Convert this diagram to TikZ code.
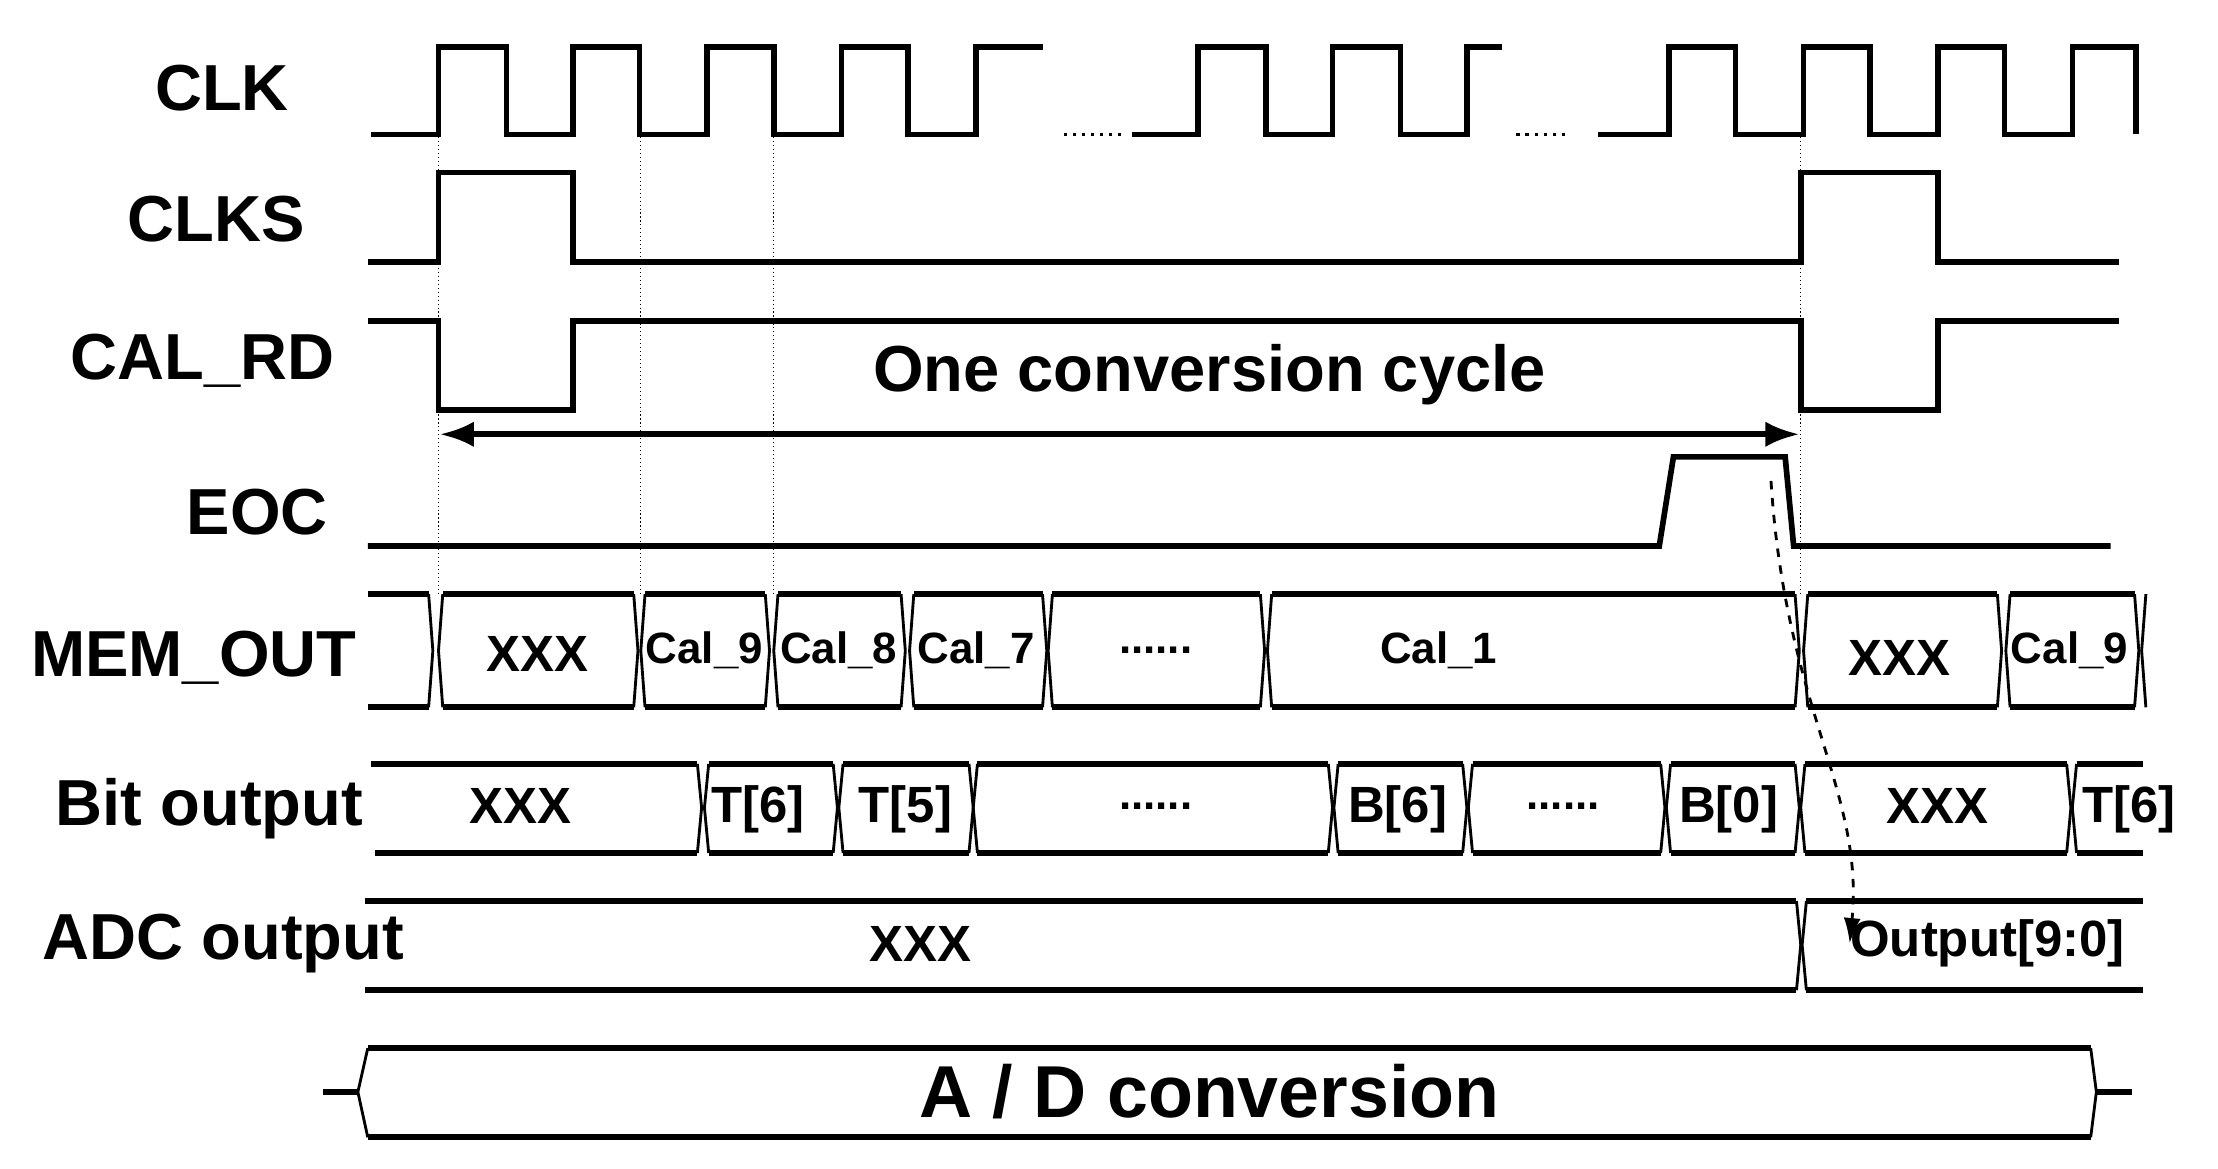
\documentclass[tikz,border=0pt]{standalone}
\usepackage{fontspec}
\setmainfont{Liberation Sans}
\usetikzlibrary{arrows.meta}
\begin{document}
\begin{tikzpicture}[x=0.5pt,y=-0.5pt,
  wave/.style={line width=2pt,line join=miter},
  bus/.style={line width=1pt},
  busedge/.style={line width=2.2pt},
  lbl/.style={font=\bfseries\fontsize{23}{23}\selectfont,inner sep=0},
  cell/.style={font=\bfseries\fontsize{18}{18}\selectfont,inner sep=0},
  cals/.style={font=\bfseries\fontsize{15.5}{15.5}\selectfont,inner sep=0},
  guide/.style={densely dotted,line width=0.4pt}]
\useasboundingbox (0,0) rectangle (1568,826);
% labels
\node[lbl] (lclk) at (157,62) {CLK};
\node[lbl] (lclks) at (153,155) {CLKS};
\node[lbl] (lcal) at (143,255) {CAL\_RD};
\node[lbl] (leoc) at (182,362) {EOC};
\node[lbl] (lmem) at (137,465) {MEM\_OUT};
\node[lbl] (lbit) at (148,572) {Bit output};
\node[lbl] (ladc) at (158,667) {ADC output};
% guides
\foreach \x in {310,453,547,1273} \draw[guide] (\x,97) -- (\x,420);
% CLK
\def\H{33}\def\L{95}
\draw[wave] (262,\L) -- (310,\L) -- (310,\H) -- (358,\H) -- (358,\L) -- (405,\L) -- (405,\H) -- (452,\H) -- (452,\L) -- (500,\L) -- (500,\H) -- (547,\H) -- (547,\L) -- (595,\L) -- (595,\H) -- (642,\H) -- (642,\L) -- (690,\L) -- (690,\H) -- (737,\H);
\draw[line width=1.2pt,dotted] (752,\L) -- (795,\L);
\draw[wave] (800,\L) -- (847,\L) -- (847,\H) -- (895,\H) -- (895,\L) -- (942,\L) -- (942,\H) -- (990,\H) -- (990,\L) -- (1037,\L) -- (1037,\H) -- (1062,\H);
\draw[line width=1.2pt,dotted] (1072,\L) -- (1110,\L);
\draw[wave] (1130,\L) -- (1180,\L) -- (1180,\H) -- (1227,\H) -- (1227,\L) -- (1275,\L) -- (1275,\H) -- (1322,\H) -- (1322,\L) -- (1370,\L) -- (1370,\H) -- (1417,\H) -- (1417,\L) -- (1465,\L) -- (1465,\H) -- (1510,\H) -- (1510,\L);
% CLKS
\draw[wave] (260,185) -- (310,185) -- (310,122) -- (405,122) -- (405,185) -- (1273,185) -- (1273,122) -- (1370,122) -- (1370,185) -- (1498,185);
% CAL_RD
\draw[wave] (260,227) -- (310,227) -- (310,290) -- (405,290) -- (405,227) -- (1273,227) -- (1273,290) -- (1370,290) -- (1370,227) -- (1498,227);
\coordinate (cs) at (311,307); \coordinate (ce) at (1272,307);
\draw[line width=2pt,{Latex[length=12pt,width=9pt]}-{Latex[length=12pt,width=9pt]}] (cs) -- (ce);
\node[lbl] (one) at (855,265) {One conversion cycle};
% EOC
\draw[wave] (260,386) -- (1173,386) -- (1183,323) -- (1262,323) -- (1268,386) -- (1492,386);
% MEM_OUT bus
\def\T{420}\def\B{500}\def\M{460}
\draw[busedge] (260,\T) -- (303,\T); \draw[busedge] (260,\B) -- (303,\B);
\draw[bus] (303,\T) -- (306,\M) -- (303,\B);
\foreach \a/\b in {312/449,455/542,549/638,645/738,743/892,898/1270,1277/1413,1420/1510}{
  \draw[busedge] (\a+1,\T) -- (\b-1,\T);
  \draw[busedge] (\a+1,\B) -- (\b-1,\B);
  \draw[bus] (\a+1,\T) -- (\a-2,\M) -- (\a+1,\B);
  \draw[bus] (\b-1,\T) -- (\b+2,\M) -- (\b-1,\B);}
\draw[bus] (1517,\T) -- (1514,\M) -- (1517,\B);
\node[cell] (m1) at (380,462) {XXX};
\node[cals] (m2) at (498,460) {Cal\_9};
\node[cals] (m3) at (593,460) {Cal\_8};
\node[cals] (m4) at (690,460) {Cal\_7};
\node[cals] (m5) at (817,460) {......};
\node[cals] (m6) at (1017,460) {Cal\_1};
\node[cell] (m7) at (1343,465) {XXX};
\node[cals] (m8) at (1463,460) {Cal\_9};
% Bit output
\def\T{540}\def\B{603}\def\M{571}
\draw[busedge] (262,\T) -- (493,\T); \draw[busedge] (265,\B) -- (493,\B);
\draw[bus] (493,\T) -- (496,\M) -- (493,\B);
\foreach \a/\b in {500/590,595/686,690/940,945/1035,1040/1175,1180/1270,1275/1462}{
  \draw[busedge] (\a+1,\T) -- (\b-1,\T);
  \draw[busedge] (\a+1,\B) -- (\b-1,\B);
  \draw[bus] (\a+1,\T) -- (\a-2,\M) -- (\a+1,\B);
  \draw[bus] (\b-1,\T) -- (\b+2,\M) -- (\b-1,\B);}
\draw[busedge] (1468,\T) -- (1515,\T); \draw[busedge] (1468,\B) -- (1515,\B);
\draw[bus] (1468,\T) -- (1465,\M) -- (1468,\B);
\node[cell] (b1) at (368,570) {XXX};
\node[cell] (b2) at (536,572) {T[6]};
\node[cell] (b3) at (640,572) {T[5]};
\node[cals] (b4) at (817,570) {......};
\node[cell] (b5) at (988,572) {B[6]};
\node[cals] (b6) at (1105,570) {......};
\node[cell] (b7) at (1222,572) {B[0]};
\node[cell] (b8) at (1370,570) {XXX};
\node[cell] (b9) at (1505,572) {T[6]};
% ADC output
\def\T{637}\def\B{700}\def\M{668}
\draw[busedge] (258,\T) -- (1270,\T); \draw[busedge] (258,\B) -- (1270,\B);
\draw[bus] (1270,\T) -- (1273,\M) -- (1270,\B);
\draw[busedge] (1277,\T) -- (1515,\T); \draw[busedge] (1277,\B) -- (1515,\B);
\draw[bus] (1277,\T) -- (1274,\M) -- (1277,\B);
\node[cell] (a1) at (651,667) {XXX};
\node[cell] (a2) at (1405,667) {Output[9:0]};
% A/D conversion
\draw[busedge] (260,741) -- (1478,741); \draw[busedge] (260,804) -- (1478,804);
\draw[bus] (260,741) -- (253,772) -- (260,804);
\draw[bus] (1478,741) -- (1482,772) -- (1478,804);
\draw[busedge] (228,772) -- (253,772); \draw[busedge] (1482,772) -- (1507,772);
\node[font=\bfseries\fontsize{26}{26}\selectfont,inner sep=0] (ad) at (855,772) {A / D conversion};
% dashed causal arrow
\coordinate (eocf) at (1252,340);
\draw[dashed,line width=1pt,-{Latex[length=9pt,width=6pt]}] (eocf) .. controls (1262,500) and (1318,560) .. (a2.west);
\end{tikzpicture}
\end{document}
